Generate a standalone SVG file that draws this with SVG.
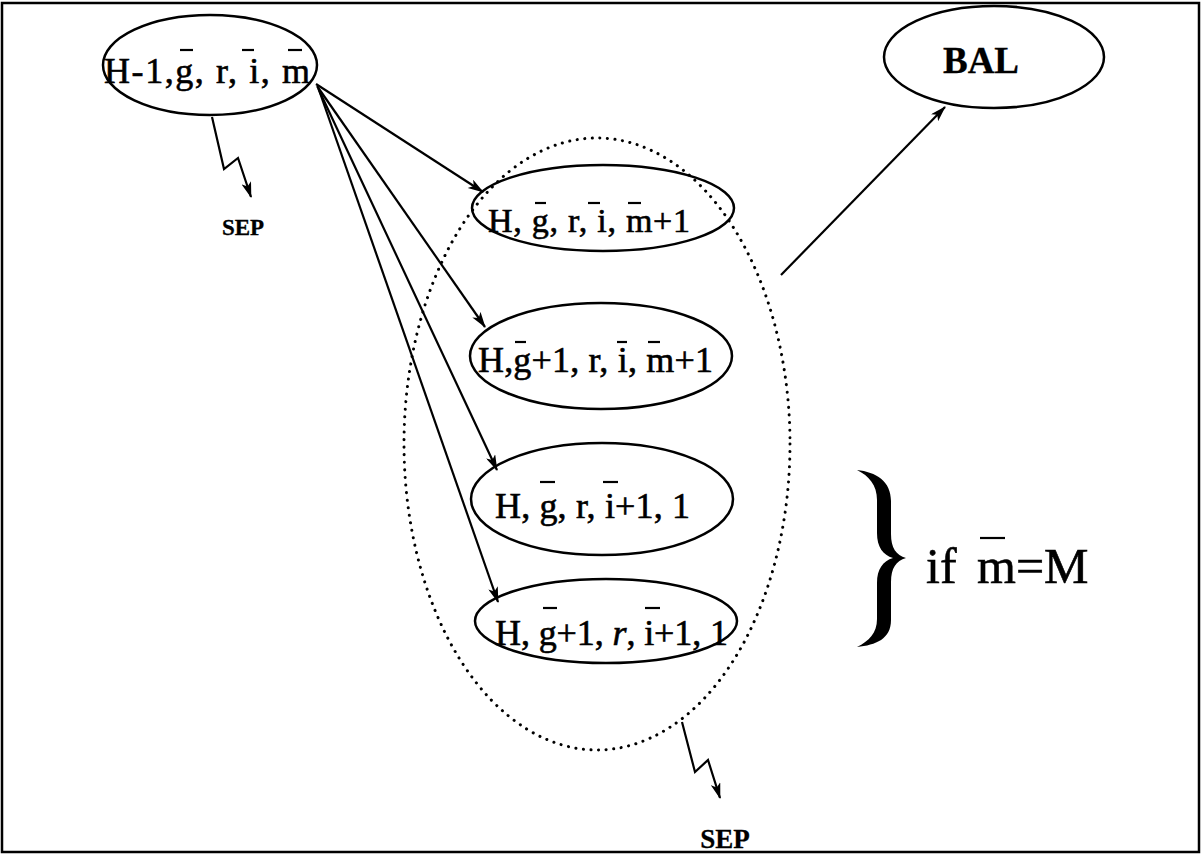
<svg xmlns="http://www.w3.org/2000/svg" width="1202" height="854" viewBox="0 0 1202 854">
<style>
.n{fill:none;stroke:#000;stroke-width:2.5}
.t{font-family:"Liberation Serif","Times New Roman",serif;fill:#000;stroke:#000;stroke-width:0.6}
.b{font-weight:bold;stroke-width:0.3}
.bar{stroke:#000;stroke-width:2.2}
.c{fill:none;stroke:#000;stroke-width:2.2}
</style>
<defs>
<marker id="ah" viewBox="0 0 16 10" refX="15" refY="5" markerWidth="17" markerHeight="10" markerUnits="userSpaceOnUse" orient="auto">
<path d="M0,0 L16,5 L0,10 L4,5 Z" fill="#000"/>
</marker>
</defs>
<rect x="2" y="3" width="1197" height="849" fill="#fff" stroke="#000" stroke-width="2.5"/>

<g id="group-dotted">
<ellipse cx="597" cy="444" rx="193" ry="306" fill="none" stroke="#000" stroke-width="3" stroke-dasharray="0.1 7.5" stroke-linecap="round"/>
</g>

<g id="node-start">
<ellipse class="n" cx="210" cy="65" rx="107" ry="50"/>
<text class="t" x="104" y="83" font-size="36" textLength="206" lengthAdjust="spacing">H-1,g, r, i, m</text>
<line class="bar" x1="180" y1="50" x2="193" y2="50"/>
<line class="bar" x1="242" y1="50" x2="254" y2="50"/>
<line class="bar" x1="288" y1="50" x2="302" y2="50"/>
</g>

<g id="node-bal">
<ellipse class="n" cx="994" cy="57" rx="110" ry="51"/>
<text class="t b" x="981" y="73" font-size="37" text-anchor="middle">BAL</text>
</g>

<g id="node-1">
<ellipse class="n" cx="603" cy="208" rx="131" ry="43"/>
<text class="t" x="488" y="232" font-size="34" textLength="202" lengthAdjust="spacing">H, g, r, i, m+1</text>
<line class="bar" x1="535" y1="203" x2="546" y2="203"/>
<line class="bar" x1="588" y1="203" x2="600" y2="203"/>
<line class="bar" x1="628" y1="203" x2="641" y2="203"/>
</g>

<g id="node-2">
<ellipse class="n" cx="601" cy="356" rx="131" ry="53"/>
<text class="t" x="478" y="372" font-size="36" textLength="235" lengthAdjust="spacing">H,g+1, r, i, m+1</text>
<line class="bar" x1="515" y1="342" x2="526" y2="342"/>
<line class="bar" x1="617" y1="342" x2="627" y2="342"/>
<line class="bar" x1="648" y1="342" x2="660" y2="342"/>
</g>

<g id="node-3">
<ellipse class="n" cx="602" cy="499" rx="131" ry="56"/>
<text class="t" x="495" y="518" font-size="36" textLength="195" lengthAdjust="spacing">H, g, r, i+1, 1</text>
<line class="bar" x1="540" y1="482" x2="555" y2="482"/>
<line class="bar" x1="603" y1="482" x2="618" y2="482"/>
</g>

<g id="node-4">
<ellipse class="n" cx="606" cy="621" rx="131" ry="42"/>
<text class="t" x="495" y="645" font-size="36" textLength="233" lengthAdjust="spacing">H, g+1, <tspan font-style="italic">r</tspan>, i+1, 1</text>
<line class="bar" x1="543" y1="608" x2="557" y2="608"/>
<line class="bar" x1="645" y1="608" x2="660" y2="608"/>
</g>

<g id="connectors">
<line class="c" x1="316" y1="84" x2="483" y2="192" marker-end="url(#ah)"/>
<line class="c" x1="317" y1="86" x2="485" y2="327" marker-end="url(#ah)"/>
<line class="c" x1="318" y1="88" x2="497" y2="470" marker-end="url(#ah)"/>
<line class="c" x1="319" y1="90" x2="498" y2="602" marker-end="url(#ah)"/>
<line class="c" x1="781" y1="275" x2="945" y2="107" marker-end="url(#ah)"/>
<polyline class="c" stroke-width="2.8" points="212,117 224,169 238,158 251,197" marker-end="url(#ah)"/>
<polyline class="c" stroke-width="2.8" points="682,722 695,772 708,760 720,798" marker-end="url(#ah)"/>
</g>

<g id="labels">
<text class="t b" x="243" y="235" font-size="23" text-anchor="middle">SEP</text>
<text class="t b" x="725" y="848" font-size="27" text-anchor="middle">SEP</text>
</g>

<g id="brace">
<path d="M857,470 C876,472 891,481 891,501 L891,534 C891,548 896,555 906,558 C896,561 891,568 891,582 L891,620 C891,639 876,645 857,647 C869,641 877,633 877,619 L877,583 C877,569 883,561 893,558 C883,555 877,547 877,533 L877,500 C877,485 869,476 857,470 Z" fill="#000"/>
<text class="t" y="583" font-size="50"><tspan x="926">if</tspan><tspan x="977">m=M</tspan></text>
<line class="bar" stroke-width="2.5" x1="980" y1="538" x2="1005" y2="538"/>
</g>
</svg>
